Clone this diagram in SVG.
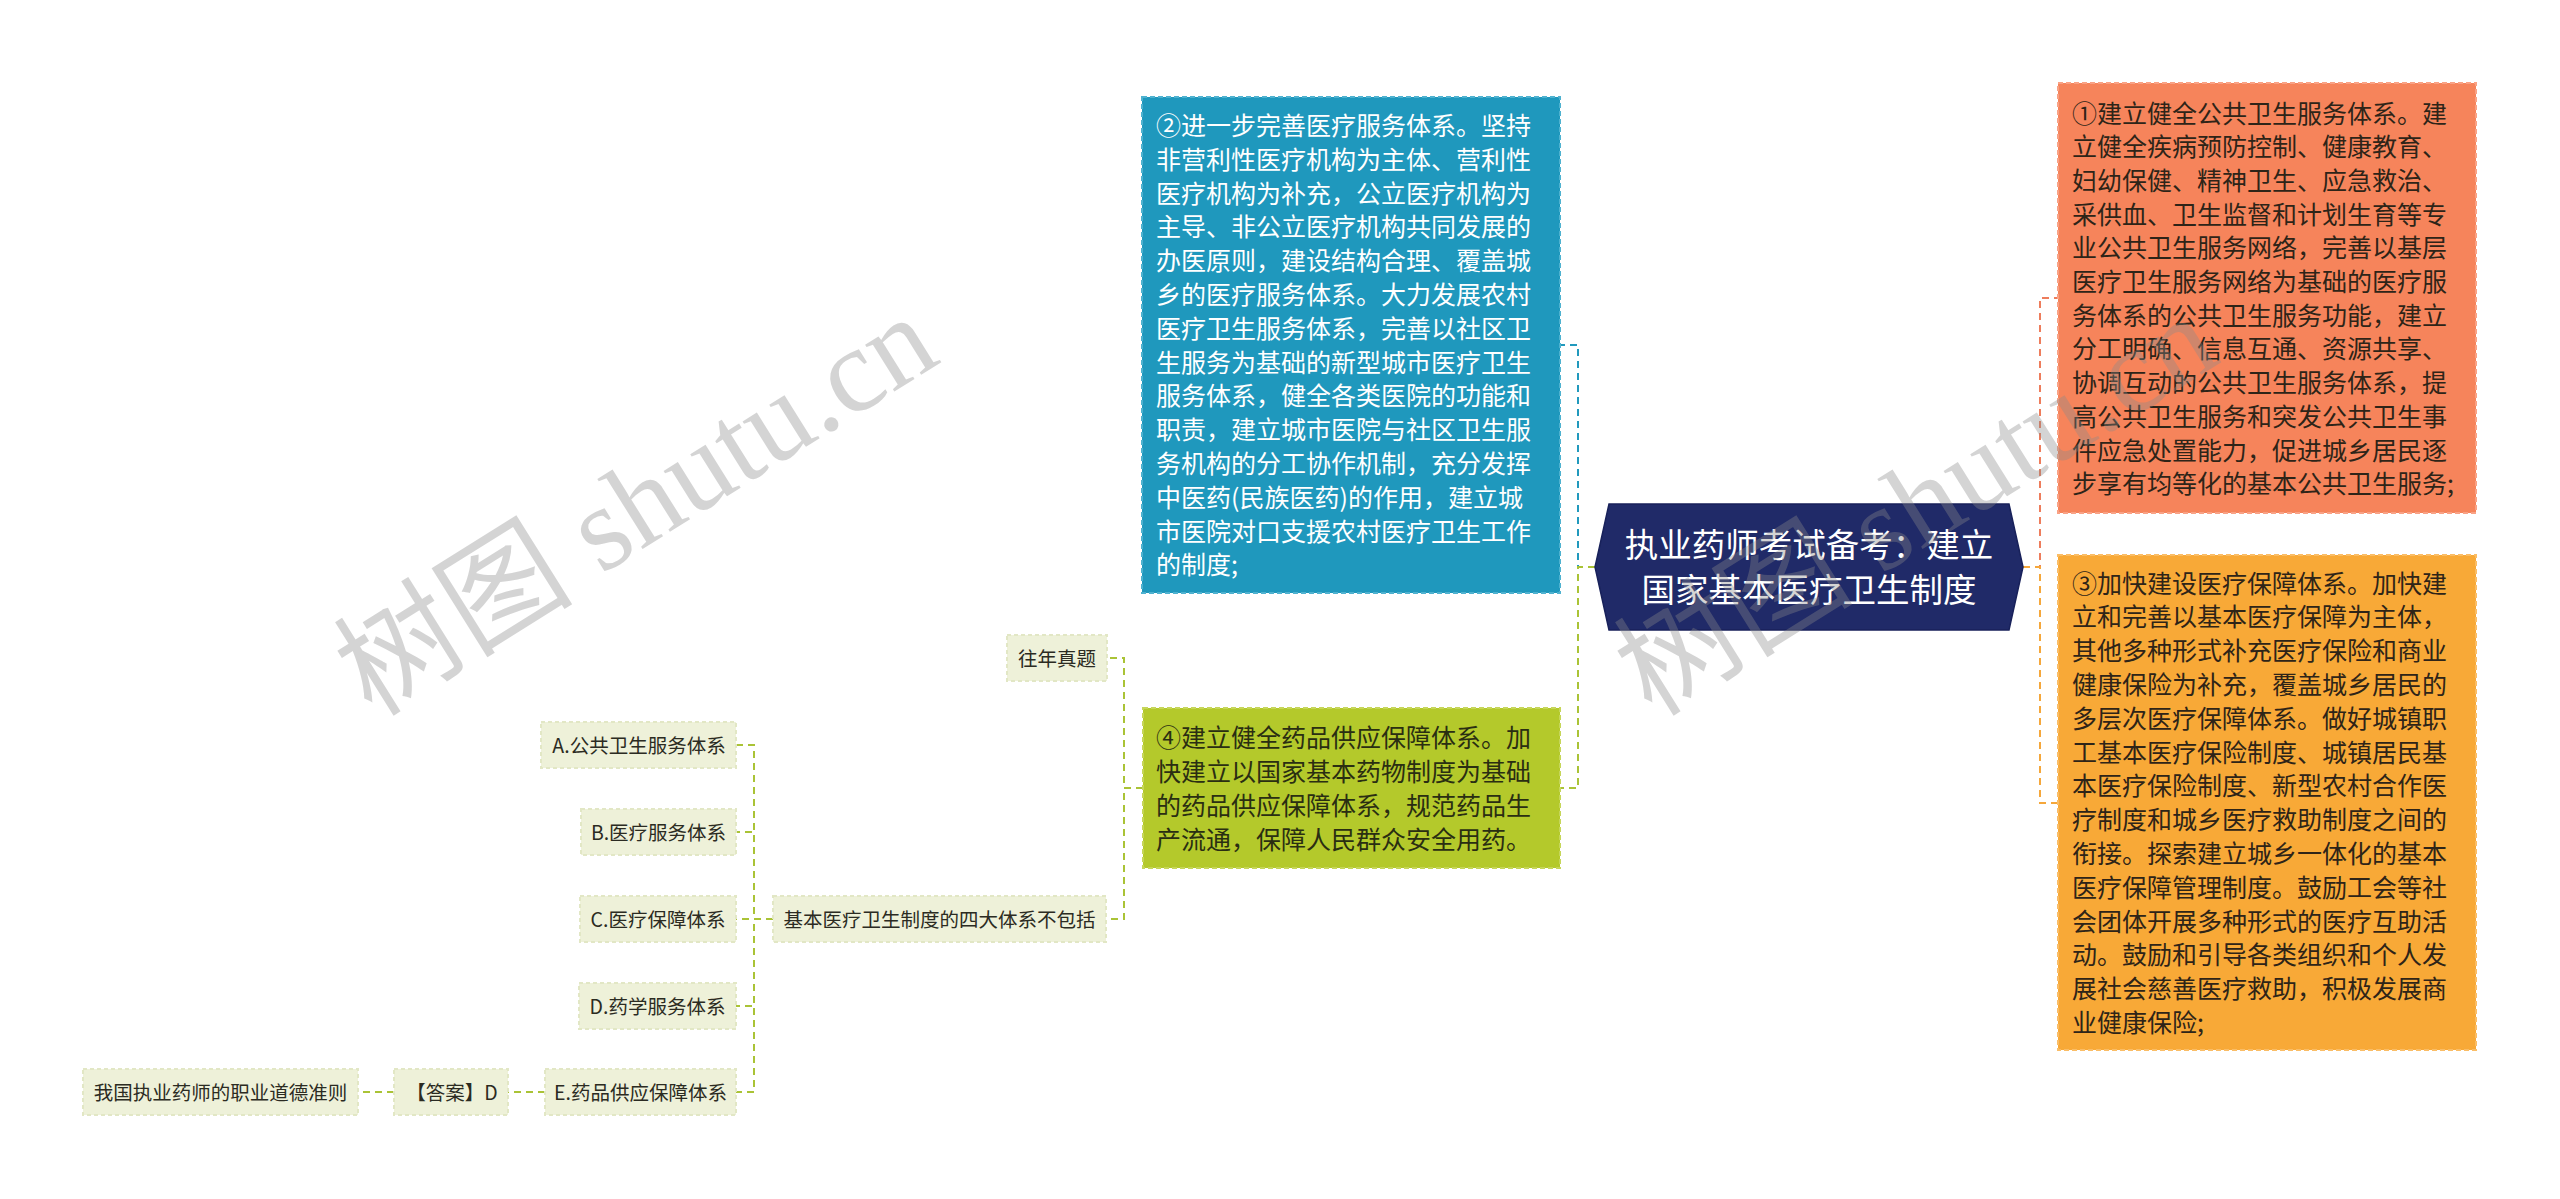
<svg xmlns="http://www.w3.org/2000/svg" width="2560" height="1199" viewBox="0 0 2560 1199">
<style>
text{font-family:"Noto Sans CJK SC","Noto Sans",sans-serif}
.big{font-size:25px}
.sm{font-size:19.5px;fill:#2b2b22;text-anchor:middle}
.dark{fill:#2e2418}
.lite{fill:#ffffff}
.conn{fill:none;stroke-width:2;stroke-dasharray:7 5}
.c-blue{stroke:#2199bd}
.c-green{stroke:#aac336}
.c-red{stroke:#ee7d5c}
.c-orange{stroke:#f5a73b}
.leaf{fill:#eef1d9;stroke:#e2e7c5;stroke-width:2;stroke-dasharray:4 3}
.wm{font-family:"Liberation Serif","Noto Sans CJK SC",serif;font-size:120px;fill:#8a8a8a;opacity:0.36}
</style>
<rect width="2560" height="1199" fill="#ffffff"/>

<g id="connectors">
  <path class="conn c-blue" d="M1595,567 H1578 V345 H1560"/>
  <path class="conn c-green" d="M1595,567 H1578 V788 H1560"/>
  <path class="conn c-red" d="M2023,567 H2040 V298 H2058"/>
  <path class="conn c-orange" d="M2023,567 H2040 V803 H2058"/>
  <path class="conn c-green" d="M1143,788 H1124 V658 H1107"/>
  <path class="conn c-green" d="M1143,788 H1124 V919 H1106"/>
  <path class="conn c-green" d="M773,919 H754 V745 H736"/>
  <path class="conn c-green" d="M773,919 H754 V832 H736"/>
  <path class="conn c-green" d="M773,919 H736"/>
  <path class="conn c-green" d="M773,919 H754 V1006 H736"/>
  <path class="conn c-green" d="M773,919 H754 V1092 H736"/>
  <path class="conn c-green" d="M545,1092 H508"/>
  <path class="conn c-green" d="M394,1092 H358"/>
</g>

<g id="root">
  <polygon points="1609,504 2009,504 2023,567 2009,630 1609,630 1595,567" fill="#202a68" stroke="#18215a" stroke-width="1.5"/>
  <text x="1809" y="557" font-size="33.5" text-anchor="middle" class="lite">执业药师考试备考：建立</text>
  <text x="1809" y="602" font-size="33.5" text-anchor="middle" class="lite">国家基本医疗卫生制度</text>
</g>

<g id="node2">
  <rect x="1142" y="97" width="418" height="496" fill="#1f98bd" stroke="#4fb2d0" stroke-width="2" stroke-dasharray="5 3"/>
  <text class="big lite" x="1156" y="135">
    <tspan x="1156" dy="0">②进一步完善医疗服务体系。坚持</tspan>
    <tspan x="1156" dy="33.8">非营利性医疗机构为主体、营利性</tspan>
    <tspan x="1156" dy="33.8">医疗机构为补充，公立医疗机构为</tspan>
    <tspan x="1156" dy="33.8">主导、非公立医疗机构共同发展的</tspan>
    <tspan x="1156" dy="33.8">办医原则，建设结构合理、覆盖城</tspan>
    <tspan x="1156" dy="33.8">乡的医疗服务体系。大力发展农村</tspan>
    <tspan x="1156" dy="33.8">医疗卫生服务体系，完善以社区卫</tspan>
    <tspan x="1156" dy="33.8">生服务为基础的新型城市医疗卫生</tspan>
    <tspan x="1156" dy="33.8">服务体系，健全各类医院的功能和</tspan>
    <tspan x="1156" dy="33.8">职责，建立城市医院与社区卫生服</tspan>
    <tspan x="1156" dy="33.8">务机构的分工协作机制，充分发挥</tspan>
    <tspan x="1156" dy="33.8">中医药(民族医药)的作用，建立城</tspan>
    <tspan x="1156" dy="33.8">市医院对口支援农村医疗卫生工作</tspan>
    <tspan x="1156" dy="33.8">的制度;</tspan>
  </text>
</g>

<g id="node4">
  <rect x="1143" y="708" width="417" height="160" fill="#b4c92b" stroke="#c6d65a" stroke-width="2" stroke-dasharray="5 3"/>
  <text class="big" fill="#2a2e12" x="1156" y="747">
    <tspan x="1156" dy="0">④建立健全药品供应保障体系。加</tspan>
    <tspan x="1156" dy="34">快建立以国家基本药物制度为基础</tspan>
    <tspan x="1156" dy="34">的药品供应保障体系，规范药品生</tspan>
    <tspan x="1156" dy="34">产流通，保障人民群众安全用药。</tspan>
  </text>
</g>

<g id="node1">
  <rect x="2058" y="83" width="418" height="430" fill="#f6845b" stroke="#f9a285" stroke-width="2" stroke-dasharray="5 3"/>
  <text class="big dark" x="2072" y="122.5">
    <tspan x="2072" dy="0">①建立健全公共卫生服务体系。建</tspan>
    <tspan x="2072" dy="33.7">立健全疾病预防控制、健康教育、</tspan>
    <tspan x="2072" dy="33.7">妇幼保健、精神卫生、应急救治、</tspan>
    <tspan x="2072" dy="33.7">采供血、卫生监督和计划生育等专</tspan>
    <tspan x="2072" dy="33.7">业公共卫生服务网络，完善以基层</tspan>
    <tspan x="2072" dy="33.7">医疗卫生服务网络为基础的医疗服</tspan>
    <tspan x="2072" dy="33.7">务体系的公共卫生服务功能，建立</tspan>
    <tspan x="2072" dy="33.7">分工明确、信息互通、资源共享、</tspan>
    <tspan x="2072" dy="33.7">协调互动的公共卫生服务体系，提</tspan>
    <tspan x="2072" dy="33.7">高公共卫生服务和突发公共卫生事</tspan>
    <tspan x="2072" dy="33.7">件应急处置能力，促进城乡居民逐</tspan>
    <tspan x="2072" dy="33.7">步享有均等化的基本公共卫生服务;</tspan>
  </text>
</g>

<g id="node3">
  <rect x="2058" y="555" width="418" height="495" fill="#f8a937" stroke="#fabd66" stroke-width="2" stroke-dasharray="5 3"/>
  <text class="big dark" x="2072" y="592.5">
    <tspan x="2072" dy="0">③加快建设医疗保障体系。加快建</tspan>
    <tspan x="2072" dy="33.8">立和完善以基本医疗保障为主体，</tspan>
    <tspan x="2072" dy="33.8">其他多种形式补充医疗保险和商业</tspan>
    <tspan x="2072" dy="33.8">健康保险为补充，覆盖城乡居民的</tspan>
    <tspan x="2072" dy="33.8">多层次医疗保障体系。做好城镇职</tspan>
    <tspan x="2072" dy="33.8">工基本医疗保险制度、城镇居民基</tspan>
    <tspan x="2072" dy="33.8">本医疗保险制度、新型农村合作医</tspan>
    <tspan x="2072" dy="33.8">疗制度和城乡医疗救助制度之间的</tspan>
    <tspan x="2072" dy="33.8">衔接。探索建立城乡一体化的基本</tspan>
    <tspan x="2072" dy="33.8">医疗保障管理制度。鼓励工会等社</tspan>
    <tspan x="2072" dy="33.8">会团体开展多种形式的医疗互助活</tspan>
    <tspan x="2072" dy="33.8">动。鼓励和引导各类组织和个人发</tspan>
    <tspan x="2072" dy="33.8">展社会慈善医疗救助，积极发展商</tspan>
    <tspan x="2072" dy="33.8">业健康保险;</tspan>
  </text>
</g>

<g id="past-exam">
  <rect class="leaf" x="1007" y="635" width="100" height="46"/>
  <text class="sm" x="1057" y="665.5">往年真题</text>
</g>

<g id="question">
  <rect class="leaf" x="773" y="896" width="333" height="46"/>
  <text class="sm" x="939.5" y="926.5">基本医疗卫生制度的四大体系不包括</text>
</g>

<g id="optA">
  <rect class="leaf" x="541" y="722" width="195" height="46"/>
  <text class="sm" x="639" y="752.5">A.公共卫生服务体系</text>
</g>
<g id="optB">
  <rect class="leaf" x="581" y="809" width="155" height="46"/>
  <text class="sm" x="658.5" y="839.5">B.医疗服务体系</text>
</g>
<g id="optC">
  <rect class="leaf" x="580" y="896" width="156" height="46"/>
  <text class="sm" x="658" y="926.5">C.医疗保障体系</text>
</g>
<g id="optD">
  <rect class="leaf" x="579" y="983" width="157" height="46"/>
  <text class="sm" x="657.5" y="1013.5">D.药学服务体系</text>
</g>
<g id="optE">
  <rect class="leaf" x="545" y="1069" width="191" height="46"/>
  <text class="sm" x="640.5" y="1099.5">E.药品供应保障体系</text>
</g>

<g id="answer">
  <rect class="leaf" x="394" y="1069" width="114" height="46"/>
  <text class="sm" x="452" y="1099.5">【答案】D</text>
</g>

<g id="ethics">
  <rect class="leaf" x="83" y="1069" width="275" height="46"/>
  <text class="sm" x="220.5" y="1099.5">我国执业药师的职业道德准则</text>
</g>

<g id="watermark">
  <text class="wm" transform="translate(372,718) rotate(-32)">树图 shutu.cn</text>
  <text class="wm" transform="translate(1652,718) rotate(-32)">树图 shutu.cn</text>
</g>
</svg>
